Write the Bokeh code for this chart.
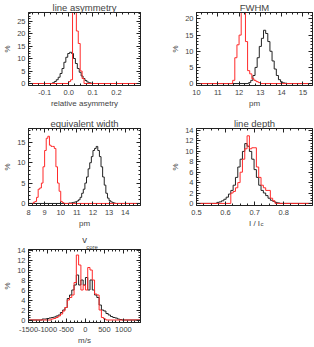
import numpy as np
from bokeh.plotting import figure
from bokeh.layouts import row, column
from bokeh.models import Range1d, FixedTicker, LinearAxis, Label, PrintfTickFormatter
from bokeh.embed import file_html
from bokeh.resources import INLINE

# ---------------- data (percent per bin) ----------------
# line asymmetry
ASYM_BIN = 0.008
ASYM_BLACK_START = -0.068
ASYM_BLACK = [0.3, 0.8, 1.5, 2.5, 4.0, 6.0, 8.5, 10.5, 12.0, 12.5, 12.0, 10.0,
              8.0, 6.0, 4.5, 3.0, 2.0, 1.2, 0.6, 0.3, 0.1]
ASYM_RED_START = 0.0
ASYM_RED = [0.8, 1.5, 32.0, 29.0, 21.0, 16.0, 5.0, 2.0]

# FWHM [pm]
FWHM_BIN = 0.1
FWHM_BLACK_START = 12.45
FWHM_BLACK = [0.3, 1.0, 2.5, 5.0, 8.0, 11.5, 14.0, 16.5, 15.5, 13.0, 10.0, 7.0,
              4.5, 2.5, 1.2, 0.5, 0.2, 0.1]
FWHM_RED_START = 11.7
FWHM_RED = [1.0, 8.0, 12.0, 15.0, 24.0, 24.0, 13.0, 4.0, 3.0, 1.5, 1.0, 0.6, 0.3]

# equivalent width [pm]
EW_BIN = 0.1
EW_BLACK_START = 10.5
EW_BLACK = [0.1, 0.1, 0.2, 0.3, 0.4, 0.6, 0.9, 1.5, 2.5, 3.5, 5.0, 6.5, 8.5, 10.0,
            11.5, 13.0, 13.5, 14.0, 13.0, 11.5, 9.0, 6.5, 4.5, 2.5, 1.3, 0.7, 0.4,
            0.2, 0.1]
EW_RED_START = 8.3
EW_RED = [0.3, 0.5, 1.5, 3.5, 3.8, 5.0, 9.0, 13.0, 16.0, 16.5, 14.3, 14.0, 14.0,
          13.5, 9.0, 5.0, 3.0, 0.5, 0.2]

# line depth I/Ic
LD_BIN = 0.008
LD_BLACK_START = 0.570
LD_BLACK = [0.2, 0.3, 0.5, 0.8, 1.2, 1.8, 2.5, 3.5, 5.0, 7.0, 8.5, 10.0, 11.5,
            11.0, 10.0, 8.5, 6.5, 5.0, 3.5, 2.5, 2.0, 1.5, 1.0, 0.6, 0.4, 0.2, 0.1]
LD_RED_START = 0.618
LD_RED = [2.0, 2.3, 3.0, 4.0, 6.0, 8.5, 10.5, 13.0, 10.5, 10.7, 10.7, 7.0, 5.0,
          3.5, 3.0, 2.5, 2.5, 1.0, 0.5]

# v_core [m/s]
VC_BIN = 60.0
VC_BLACK_START = -1140.0
VC_BLACK = [0.2, 0.2, 0.3, 0.4, 0.5, 0.6, 0.8, 1.0, 1.5, 2.0, 2.5, 4.3, 5.0, 6.0,
            7.0, 9.0, 7.0, 8.0, 7.0, 8.5, 6.0, 8.0, 6.0, 5.0, 4.5, 3.0, 2.0, 1.8,
            1.3, 1.0, 0.7, 0.5, 0.4, 0.2, 0.1]
VC_RED_START = -900.0
VC_RED = [0.2, 0.3, 0.5, 0.8, 1.2, 1.8, 2.5, 4.0, 4.5, 5.0, 7.5, 13.0, 11.0, 6.0,
          7.0, 6.0, 10.5, 10.0, 8.0, 5.2, 5.0, 2.0, 0.5, 0.2]

# axes
ASYM_XTICKS = [-0.1, 0.0, 0.1, 0.2]
FWHM_XTICKS = [10, 11, 12, 13, 14, 15]
EW_XTICKS = [8, 9, 10, 11, 12, 13, 14]
LD_XTICKS = [0.5, 0.6, 0.7, 0.8]
VC_XTICKS = [-1500, -1000, -500, 0, 500, 1000]

FONT = "Liberation Sans"
TXT = "#444444"
BLACK = "#222222"
RED = "#ff2a2a"


def steps(start, width, vals, xmin, xmax):
    n = len(vals)
    edges = [start + width * i for i in range(n + 1)]
    xs = [xmin] + edges + [xmax]
    ys = [0.0] + list(vals) + [0.0, 0.0]
    return xs, ys


def minor(ticks, nsub, lo, hi):
    step = (ticks[1] - ticks[0]) / nsub
    out = []
    t = ticks[0] - 10 * (ticks[1] - ticks[0])
    while t <= hi + 1e-9:
        if t >= lo - 1e-9:
            out.append(round(t, 9))
        t += step
    return out


def style_axis(ax, ticker, fmt=None, labels=True):
    ax.ticker = ticker
    ax.major_tick_in = 4
    ax.major_tick_out = 0
    ax.minor_tick_in = 2
    ax.minor_tick_out = 0
    ax.major_tick_line_color = BLACK
    ax.minor_tick_line_color = BLACK
    ax.axis_line_color = BLACK
    if labels:
        ax.major_label_text_font = FONT
        ax.major_label_text_font_size = "7.5px"
        ax.major_label_text_color = TXT
        ax.major_label_standoff = 4
        ax.axis_label_text_font = FONT
        ax.axis_label_text_font_size = "8px"
        ax.axis_label_text_font_style = "normal"
        ax.axis_label_text_color = TXT
        ax.axis_label_standoff = 1
        if fmt is not None:
            ax.formatter = fmt
    else:
        ax.major_label_text_font_size = "1px"
        ax.major_label_text_color = None
        ax.major_label_standoff = 0


def panel(w, h, bl, br, bt, bb, xr, yr, xticks, xnsub, yticks, ynsub, title,
          xlabel, fmt, black, red, title_standoff=0):
    p = figure(width=w, height=h, x_range=Range1d(*xr), y_range=Range1d(*yr),
               output_backend="svg", toolbar_location=None,
               min_border_left=bl, min_border_right=br,
               min_border_top=bt, min_border_bottom=bb)
    p.grid.visible = False
    p.outline_line_color = BLACK
    p.outline_line_width = 1
    p.background_fill_color = "white"
    p.border_fill_color = "white"
    xt = FixedTicker(ticks=xticks, minor_ticks=minor(xticks, xnsub, *xr))
    yt = FixedTicker(ticks=yticks, minor_ticks=minor(yticks, ynsub, *yr))
    style_axis(p.xaxis[0], xt, fmt)
    style_axis(p.yaxis[0], yt, PrintfTickFormatter(format="%d"))
    p.yaxis[0].major_label_standoff = 3
    p.yaxis[0].axis_label_standoff = 2
    p.xaxis.axis_label = xlabel
    p.yaxis.axis_label = "%"
    top = LinearAxis()
    style_axis(top, FixedTicker(ticks=xticks, minor_ticks=minor(xticks, xnsub, *xr)), labels=False)
    p.add_layout(top, "above")
    right = LinearAxis()
    style_axis(right, FixedTicker(ticks=yticks, minor_ticks=minor(yticks, ynsub, *yr)), labels=False)
    p.add_layout(right, "right")
    p.title.text = title
    p.title.align = "center"
    p.title.text_font = FONT
    p.title.text_font_size = "9.5px"
    p.title.text_font_style = "normal"
    p.title.text_color = TXT
    p.title.standoff = title_standoff
    p.title.offset = 0
    bx, by = steps(*black, *xr)
    p.step(bx, by, mode="after", line_color=BLACK, line_width=1)
    rx, ry = steps(*red, *xr)
    p.step(rx, ry, mode="after", line_color=RED, line_width=1)
    return p


p1 = panel(156, 110, 23, 16, 10, 23, (-0.168, 0.3), (-0.8, 28.4),
           ASYM_XTICKS, 4, [0, 5, 10, 15, 20, 25], 5, "line asymmetry",
           "relative asymmetry", PrintfTickFormatter(format="%.1f"),
           (ASYM_BLACK_START, ASYM_BIN, ASYM_BLACK),
           (ASYM_RED_START, ASYM_BIN, ASYM_RED), title_standoff=-1)
p2 = panel(158, 110, 40, 2, 10, 23, (10.0, 15.45), (-0.6, 22.0),
           FWHM_XTICKS, 4, [0, 5, 10, 15, 20], 5, "FWHM", "pm",
           PrintfTickFormatter(format="%d"),
           (FWHM_BLACK_START, FWHM_BIN, FWHM_BLACK),
           (FWHM_RED_START, FWHM_BIN, FWHM_RED), title_standoff=-1)
p3 = panel(156, 120, 23, 16, 18, 25, (8.0, 14.95), (-0.5, 18.4),
           EW_XTICKS, 4, [0, 5, 10, 15], 5, "equivalent width", "pm",
           PrintfTickFormatter(format="%d"),
           (EW_BLACK_START, EW_BIN, EW_BLACK),
           (EW_RED_START, EW_BIN, EW_RED))
p4 = panel(158, 120, 40, 2, 18, 25, (0.5, 0.899), (-0.4, 14.4),
           LD_XTICKS, 4, [0, 2, 4, 6, 8, 10, 12, 14], 4, "line depth", "I / I",
           PrintfTickFormatter(format="%.1f"),
           (LD_BLACK_START, LD_BIN, LD_BLACK),
           (LD_RED_START, LD_BIN, LD_RED))
p4.add_layout(Label(x=0.7205, y=-4.0, text="c", text_baseline="middle",
                    text_font=FONT, text_font_size="6px", text_color=TXT), "left")
p5 = panel(156, 117, 24, 16, 19, 23, (-1500.0, 1450.0), (-0.5, 14.1),
           VC_XTICKS, 5, [0, 2, 4, 6, 8, 10, 12, 14], 4, "v", "m/s",
           PrintfTickFormatter(format="%d"),
           (VC_BLACK_START, VC_BIN, VC_BLACK),
           (VC_RED_START, VC_BIN, VC_RED), title_standoff=-3)
p5.add_layout(Label(x=20.0, y=14.1, text="core", text_baseline="bottom",
                    text_font=FONT, text_font_size="6px", text_color=TXT), "above")

layout = column(row(p1, p2), row(p3, p4), row(p5))
open("out.html", "w").write(file_html(layout, INLINE))
